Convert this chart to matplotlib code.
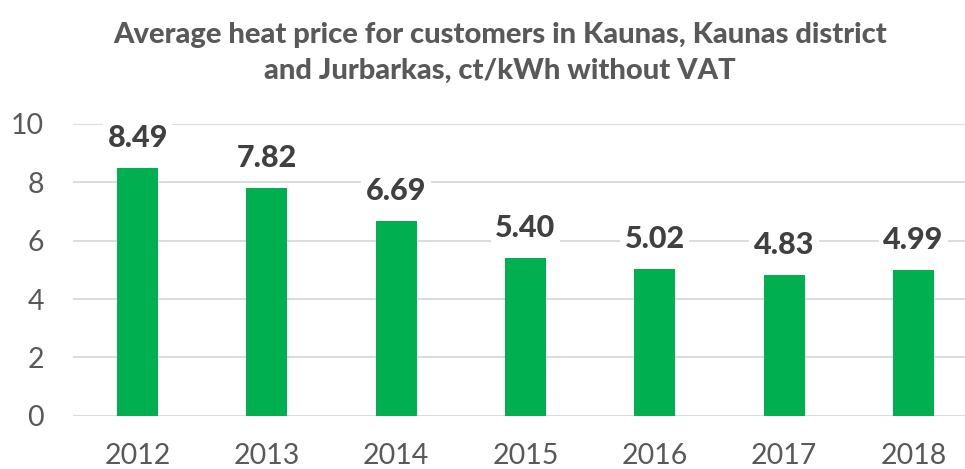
import matplotlib
matplotlib.use("Agg")
import matplotlib.pyplot as plt

years = ["2012", "2013", "2014", "2015", "2016", "2017", "2018"]
prices = [8.49, 7.82, 6.69, 5.40, 5.02, 4.83, 4.99]
title = "Average heat price for customers in Kaunas, Kaunas district\nand Jurbarkas, ct/kWh without VAT"

plt.rcParams['font.family'] = ['Lato', 'DejaVu Sans']

fig = plt.figure(figsize=(9.65, 4.69), dpi=100)
ax = fig.add_axes([73/965, 1 - 415.7/469, (978 - 73)/965, (415.7 - 124)/469])

x = list(range(len(years)))
ax.bar(x, prices, width=0.317, color="#00B050", zorder=2)
ax.set_xlim(-0.5, 6.5)
ax.set_ylim(0, 10)
ax.set_yticks([0, 2, 4, 6, 8, 10])
ax.set_xticks(x)
ax.set_xticklabels(years)
ax.yaxis.grid(True, color="#D9D9D9", linewidth=1.3, zorder=0)
ax.set_axisbelow(True)
for s in ax.spines.values():
    s.set_visible(False)
ax.tick_params(axis='both', length=0, labelsize=20.5, colors="#595959")
ax.tick_params(axis='x', pad=20)
ax.tick_params(axis='y', pad=21)

for xi, v in zip(x, prices):
    ax.annotate(f"{v:.2f}", (xi, v), xytext=(0, 21.6), textcoords="offset points",
                ha="center", va="center", fontsize=22, fontweight="black", color="#404040",
                bbox=dict(boxstyle="square,pad=0.15", fc="white", ec="none"), zorder=3)

fig.text(500/965, 1 - 53/469, title, ha="center", va="center", fontsize=21,
         fontweight="black", color="#595959", linespacing=1.5)

fig.savefig("out.png", dpi=100)
